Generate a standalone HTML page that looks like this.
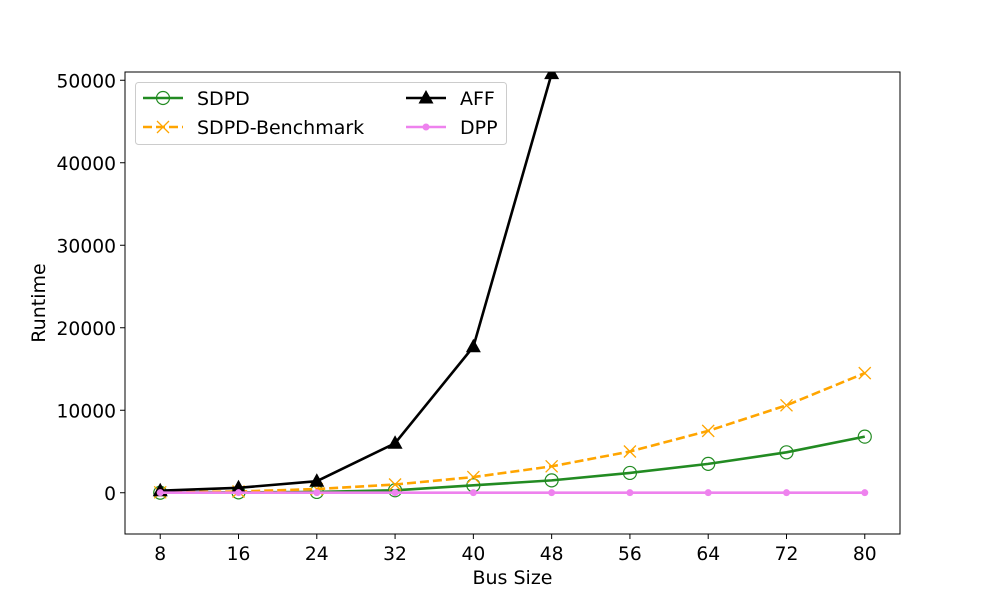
<!DOCTYPE html>
<html><head><meta charset="utf-8"><style>
body{margin:0;background:#fff}
svg{display:block;font-family:"DejaVu Sans","Liberation Sans",sans-serif}
</style></head><body>
<svg id="chart" width="1000" height="600"></svg>
<script>
const categories=[8,16,24,32,40,48,56,64,72,80];
const sdpd=[0,50,100,300,900,1500,2400,3500,4900,6800];
const sdpdBench=[50,150,450,1000,1900,3200,5000,7500,10600,14500];
const affX=[8,16,24,32,40,48];
const aff=[250,600,1400,6000,17700,50800];
const dpp=[10,10,10,10,10,10,10,10,10,10];
const yTicks=[0,10000,20000,30000,40000,50000];
const L=125,R=900,T=72,B=534;
const xmin=4.4,xmax=83.6,ymin=-5000,ymax=51000;
const X=v=>L+(v-xmin)/(xmax-xmin)*(R-L);
const Y=v=>B-(v-ymin)/(ymax-ymin)*(B-T);
const svg=document.getElementById('chart');
const NS='http://www.w3.org/2000/svg';
function mk(tag,attrs,parent){const e=document.createElementNS(NS,tag);for(const k in attrs)e.setAttribute(k,attrs[k]);(parent||svg).appendChild(e);return e;}
const clip=mk('clipPath',{id:'pc'});mk('rect',{x:L,y:T,width:R-L,height:B-T},clip);
categories.forEach(c=>{
  const l=mk('line',{x1:X(c),x2:X(c),y1:B,y2:B+5,stroke:'#000'});
  
  const t=mk('text',{x:X(c),y:B+26,'text-anchor':'middle','font-size':18.7});t.textContent=c;
  
});
yTicks.forEach(v=>{
  const l=mk('line',{x1:L-5,x2:L,y1:Y(v),y2:Y(v),stroke:'#000'});
  
  const t=mk('text',{x:L-9,y:Y(v)+7,'text-anchor':'end','font-size':18.7});t.textContent=v;
  
});
const xt=mk('text',{x:(L+R)/2,y:584,'text-anchor':'middle','font-size':19});xt.textContent='Bus Size';

const yt=mk('text',{x:45,y:(T+B)/2,'text-anchor':'middle','font-size':19,transform:`rotate(-90 45 ${(T+B)/2})`});yt.textContent='Runtime';

const g=mk('g',{'clip-path':'url(#pc)'});
function marker(type,x,y,color,parent){
  if(type==='o')return mk('circle',{cx:x,cy:y,r:6.5,fill:'none',stroke:color,'stroke-width':1.2},parent);
  if(type==='x')return mk('path',{d:`M${x-6},${y-6}L${x+6},${y+6}M${x-6},${y+6}L${x+6},${y-6}`,stroke:color,'stroke-width':1.3},parent);
  if(type==='^')return mk('path',{d:`M${x},${y-8}L${x+7.5},${y+5.5}L${x-7.5},${y+5.5}Z`,fill:color},parent);
  return mk('circle',{cx:x,cy:y,r:3.5,fill:color},parent);
}
function series(name,xs,ys,color,dash,m){
  const sg=mk('g',{},g);
  
  mk('polyline',{points:xs.map((x,i)=>X(x)+','+Y(ys[i])).join(' '),fill:'none',stroke:color,'stroke-width':2.6,'stroke-dasharray':dash||'none'},sg);
  xs.forEach((x,i)=>{const p=marker(m,X(x),Y(ys[i]),color,sg);});
}
series('sdpd',categories,sdpd,'#228b22',null,'o');
series('sdpd-benchmark',categories,sdpdBench,'#ffa500','9,4','x');
series('aff',affX,aff,'#000',null,'^');
series('dpp',categories,dpp,'#ee82ee',null,'.');
const frame=mk('rect',{x:L,y:T,width:R-L,height:B-T,fill:'none',stroke:'#000','stroke-width':1});

const lg=mk('g',{});
mk('rect',{x:135.5,y:82.5,width:371,height:62,rx:3,fill:'#fff','fill-opacity':0.8,stroke:'#ccc'},lg);
const entries=[['SDPD','#228b22',null,'o',143,98],['SDPD-Benchmark','#ffa500','9,4','x',143,127],['AFF','#000',null,'^',406,98],['DPP','#ee82ee',null,'.',406,127]];
entries.forEach(e=>{
  const eg=mk('g',{},lg);
  mk('line',{x1:e[4],x2:e[4]+40,y1:e[5],y2:e[5],stroke:e[1],'stroke-width':2.6,'stroke-dasharray':e[2]||'none'},eg);
  marker(e[3],e[4]+20,e[5],e[1],eg);
  const t=mk('text',{x:e[4]+54,y:e[5]+7,'font-size':19},eg);t.textContent=e[0];
});
</script>
</body></html>
